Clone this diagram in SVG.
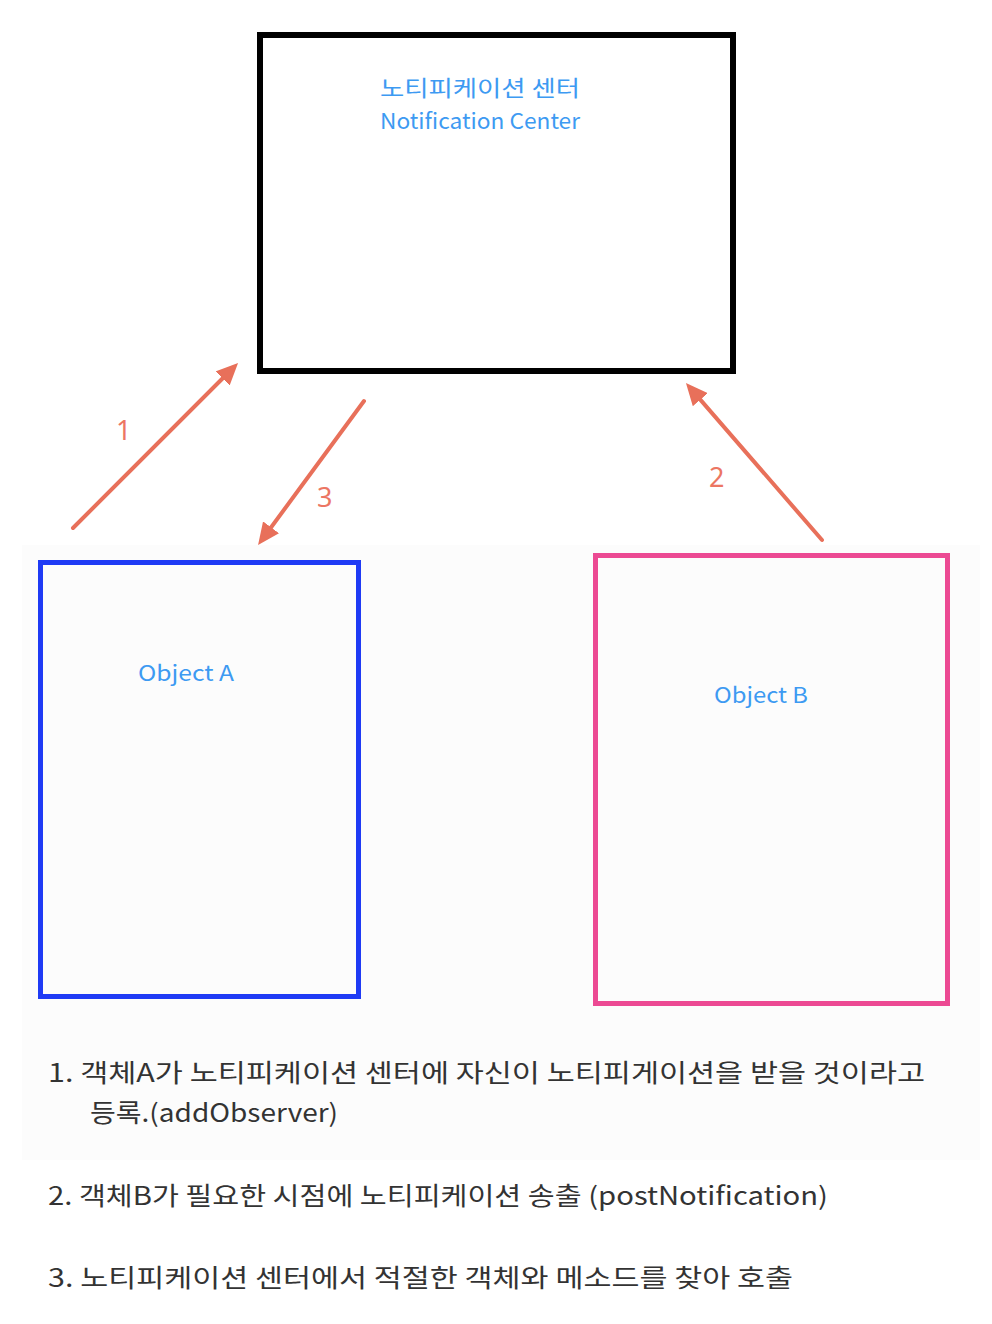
<svg xmlns="http://www.w3.org/2000/svg" width="992" height="1324" viewBox="0 0 992 1324">
<style>
.lbl{font-family:"Noto Sans CJK KR","Noto Sans",sans-serif;fill:#3d9af2;font-size:22px}
.num{font-family:"Noto Sans","Liberation Sans",sans-serif;fill:#ec7663;font-size:27px}
.note{font-family:"Noto Sans CJK KR","Noto Sans",sans-serif;fill:#333333;font-size:25px}
.arrow{stroke:#e8705a;stroke-width:4;fill:none;stroke-linecap:round}
</style>
<defs>
<marker id="ah" markerWidth="22" markerHeight="20" refX="12" refY="10" orient="auto" markerUnits="userSpaceOnUse">
<path d="M0,0 L22,10 L0,20 Z" fill="#e8705a"/>
</marker>
</defs>
<rect width="992" height="1324" fill="#ffffff"/>
<rect x="22" y="545" width="958" height="615" fill="#fcfcfc"/>
<g id="notification-center">
<rect x="260" y="35" width="473" height="336" fill="#ffffff" stroke="#000000" stroke-width="6"/>
<text class="lbl" x="380" y="96" textLength="200" lengthAdjust="spacingAndGlyphs">노티피케이션 센터</text>
<text class="lbl" x="380" y="129" textLength="200" lengthAdjust="spacingAndGlyphs">Notification Center</text>
</g>
<g id="object-a">
<rect x="40.5" y="562.5" width="318" height="434" fill="#fcfcfc" stroke="#1f3bf5" stroke-width="5"/>
<text class="lbl" x="138" y="681" textLength="96" lengthAdjust="spacingAndGlyphs">Object A</text>
</g>
<g id="object-b">
<rect x="595.5" y="555.5" width="352" height="448" fill="#fcfcfc" stroke="#ec4a93" stroke-width="5"/>
<text class="lbl" x="714" y="703" textLength="94" lengthAdjust="spacingAndGlyphs">Object B</text>
</g>
<g id="connectors">
<line class="arrow" x1="73" y1="528" x2="231" y2="370" marker-end="url(#ah)"/>
<line class="arrow" x1="364" y1="401" x2="264" y2="537" marker-end="url(#ah)"/>
<line class="arrow" x1="822" y1="540" x2="692.5" y2="390.6" marker-end="url(#ah)"/>
<text class="num" x="116" y="440">1</text>
<text class="num" x="317" y="507">3</text>
<text class="num" x="709" y="487">2</text>
</g>
<g id="notes">
<text class="note" x="48" y="1082" textLength="877" lengthAdjust="spacingAndGlyphs">1. 객체A가 노티피케이션 센터에 자신이 노티피게이션을 받을 것이라고</text>
<text class="note" x="90" y="1122" textLength="248" lengthAdjust="spacingAndGlyphs">등록.(addObserver)</text>
<text class="note" x="48" y="1205" textLength="780" lengthAdjust="spacingAndGlyphs">2. 객체B가 필요한 시점에 노티피케이션 송출 (postNotification)</text>
<text class="note" x="48" y="1287" textLength="745" lengthAdjust="spacingAndGlyphs">3. 노티피케이션 센터에서 적절한 객체와 메소드를 찾아 호출</text>
</g>
</svg>
